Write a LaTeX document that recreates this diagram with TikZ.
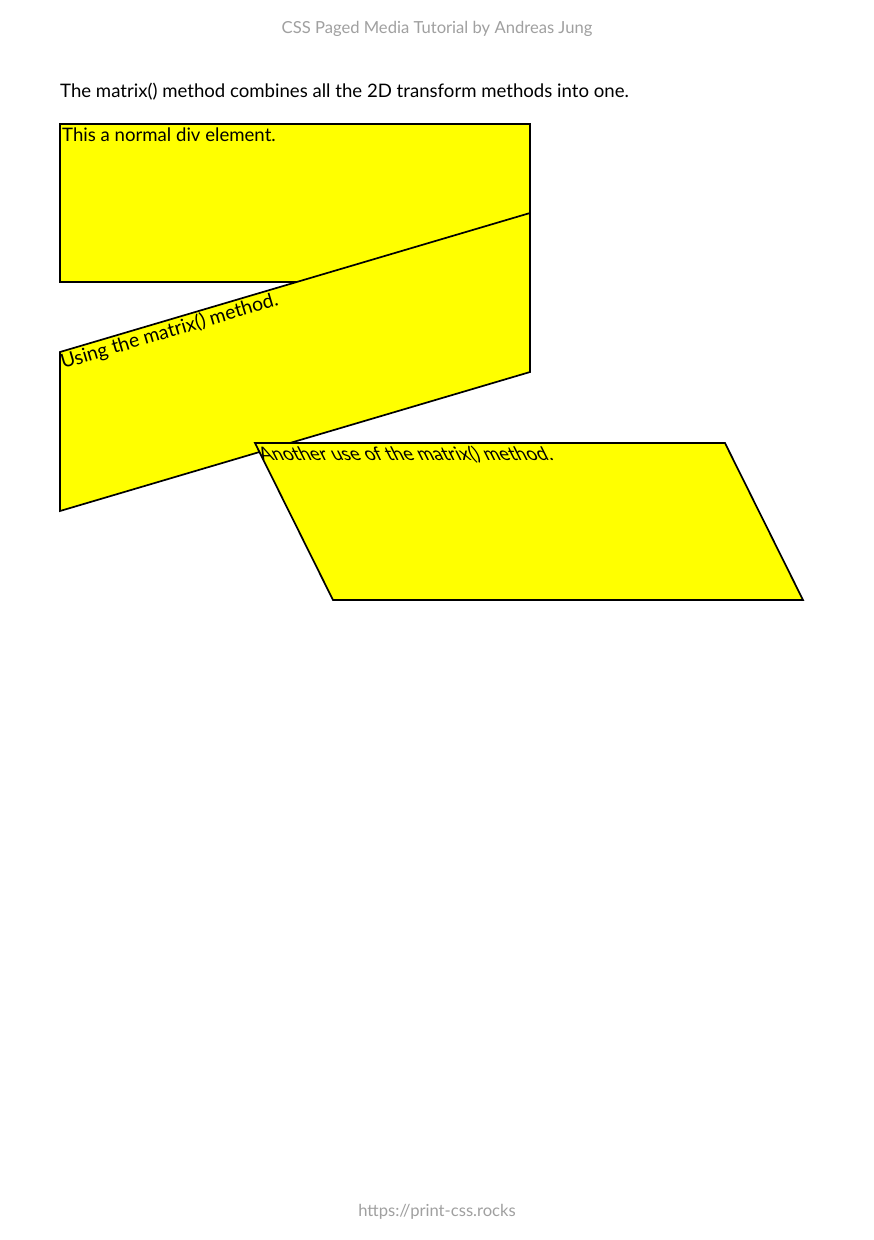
\documentclass[tikz,border=0pt]{standalone}
\usepackage{fontspec}
\setmainfont{Lato}
\definecolor{divyellow}{RGB}{255,255,0}
\definecolor{pagegray}{RGB}{160,160,160}
\begin{document}
\begin{tikzpicture}[x=1pt,y=-1pt,
  divbox/.style={draw=black,fill=divyellow,line width=1.7pt},
  divtext/.style={anchor=base west,inner sep=0pt,font=\fontsize{18.6}{22}\selectfont},
  pagetext/.style={inner sep=0pt,text=pagegray,font=\fontsize{16.6}{20}\selectfont}]
\useasboundingbox[fill=white] (0,0) rectangle (874,1240);
% header / footer
\node[pagetext,anchor=base] (header) at (437,33) {CSS Paged Media Tutorial by Andreas Jung};
\node[pagetext,anchor=base] (footer) at (437,1216) {https://print-css.rocks};
% intro line
\node[divtext,anchor=base west] (intro) at (60,97) {The matrix() method combines all the 2D transform methods into one.};
% box 1: normal div
\draw[divbox] (60,124) rectangle (530,282);
\node[divtext] (t1) at (62,141.7) {This a normal div element.};
% box 2: skewed vertically
\begin{scope}[cm={1,0.2957,0,1,(0pt,-17.74pt)}]
  \draw[divbox] (60,352) rectangle (530,511);
\end{scope}
\node[divtext,rotate=16.47,font=\fontsize{19.4}{23}\selectfont] (t2) at (63,369) {Using the matrix() method.};
% box 3: skewed horizontally
\begin{scope}[cm={1,0,-0.497,1,(-220.2pt,0pt)}]
  \draw[divbox] (255,443) rectangle (725,600);
  \node[divtext,transform shape] (t3) at (254,460) {Another use of the matrix() method.};
\end{scope}
\end{tikzpicture}
\end{document}
